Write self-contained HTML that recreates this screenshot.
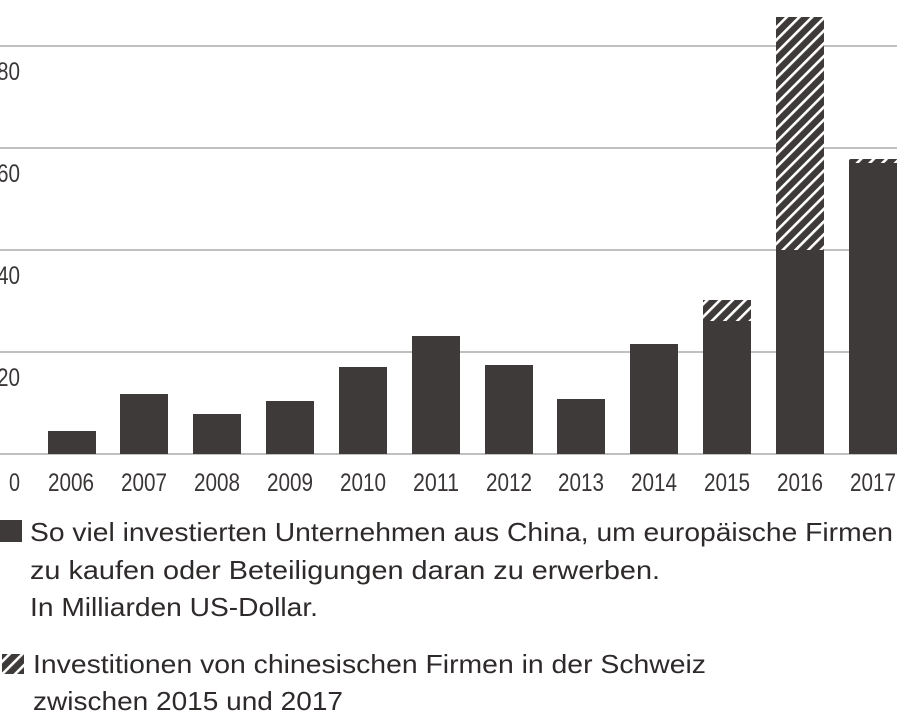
<!DOCTYPE html>
<html><head><meta charset="utf-8"><style>
body{margin:0;width:900px;height:715px;background:#fff;overflow:hidden}
svg{display:block}
.t{font-family:"Liberation Sans Narrow","Liberation Sans",sans-serif;font-size:25px;fill:#3a3636}
.l{font-family:"Liberation Sans",sans-serif;font-size:26px;fill:#2e2a2a}
</style></head><body>
<svg width="900" height="715" xmlns="http://www.w3.org/2000/svg">
<defs>
<pattern id="h" patternUnits="userSpaceOnUse" width="9" height="9" patternTransform="rotate(45)">
<rect width="9" height="9" fill="#3e3a3a"/><rect x="0" y="0" width="2.6" height="9" fill="#fff"/>
</pattern>
</defs>
<g stroke="#9a9a9a" stroke-width="1.3">
<line x1="0" y1="46" x2="897" y2="46"/>
<line x1="0" y1="148" x2="897" y2="148"/>
<line x1="0" y1="250" x2="897" y2="250"/>
<line x1="0" y1="352" x2="897" y2="352"/>
<line x1="0" y1="454" x2="897" y2="454"/>
</g>
<g class="t">
<text x="-3" y="80" textLength="23" lengthAdjust="spacingAndGlyphs">80</text>
<text x="-3" y="182" textLength="23" lengthAdjust="spacingAndGlyphs">60</text>
<text x="-3" y="284" textLength="23" lengthAdjust="spacingAndGlyphs">40</text>
<text x="-3" y="386" textLength="23" lengthAdjust="spacingAndGlyphs">20</text>
</g>
<g fill="#3e3a3a">
<rect x="48" y="431" width="48" height="23"/>
<rect x="120" y="394" width="48" height="60"/>
<rect x="193" y="414" width="48" height="40"/>
<rect x="266" y="401" width="48" height="53"/>
<rect x="339" y="367" width="48" height="87"/>
<rect x="412" y="336" width="48" height="118"/>
<rect x="485" y="365" width="48" height="89"/>
<rect x="557" y="399" width="48" height="55"/>
<rect x="630" y="344" width="48" height="110"/>
<rect x="703" y="321" width="48" height="133"/>
<rect x="776" y="250" width="48" height="204"/>
<rect x="849" y="163" width="48" height="291"/>
</g>
<rect x="703" y="300" width="48" height="21" fill="url(#h)"/>
<rect x="776" y="17" width="48" height="233" fill="url(#h)"/>
<rect x="849" y="159" width="48" height="4" fill="url(#h)"/>
<g class="t">
<text x="9" y="491" textLength="11" lengthAdjust="spacingAndGlyphs">0</text>
<text x="48" y="491" textLength="46" lengthAdjust="spacingAndGlyphs">2006</text>
<text x="121" y="491" textLength="46" lengthAdjust="spacingAndGlyphs">2007</text>
<text x="194" y="491" textLength="46" lengthAdjust="spacingAndGlyphs">2008</text>
<text x="267" y="491" textLength="46" lengthAdjust="spacingAndGlyphs">2009</text>
<text x="340" y="491" textLength="46" lengthAdjust="spacingAndGlyphs">2010</text>
<text x="413" y="491" textLength="46" lengthAdjust="spacingAndGlyphs">2011</text>
<text x="486" y="491" textLength="46" lengthAdjust="spacingAndGlyphs">2012</text>
<text x="558" y="491" textLength="46" lengthAdjust="spacingAndGlyphs">2013</text>
<text x="631" y="491" textLength="46" lengthAdjust="spacingAndGlyphs">2014</text>
<text x="704" y="491" textLength="46" lengthAdjust="spacingAndGlyphs">2015</text>
<text x="777" y="491" textLength="46" lengthAdjust="spacingAndGlyphs">2016</text>
<text x="850" y="491" textLength="46" lengthAdjust="spacingAndGlyphs">2017</text>
</g>
<rect x="0" y="520" width="22" height="22" fill="#3e3a3a"/>
<g class="l">
<text x="30" y="541" textLength="863" lengthAdjust="spacingAndGlyphs">So viel investierten Unternehmen aus China, um europäische Firmen</text>
<text x="30" y="579" textLength="630" lengthAdjust="spacingAndGlyphs">zu kaufen oder Beteiligungen daran zu erwerben.</text>
<text x="30" y="616" textLength="288" lengthAdjust="spacingAndGlyphs">In Milliarden US-Dollar.</text>
<text x="33" y="673" textLength="673" lengthAdjust="spacingAndGlyphs">Investitionen von chinesischen Firmen in der Schweiz</text>
<text x="33" y="710" textLength="310" lengthAdjust="spacingAndGlyphs">zwischen 2015 und 2017</text>
</g>
<rect x="2" y="654" width="22" height="20" fill="url(#h)"/>
</svg>
</body></html>
